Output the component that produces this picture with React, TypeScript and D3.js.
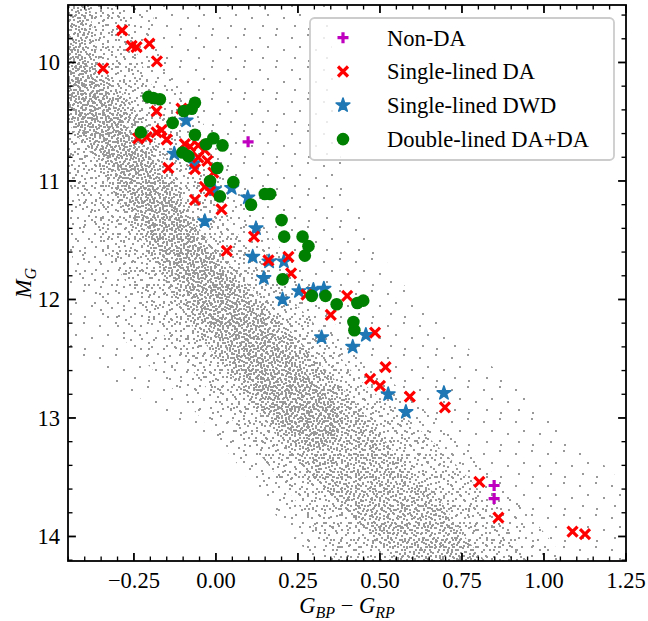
import React from "react";
import * as d3 from "d3";

// ---------- data ----------
const nonDA: [number, number][] = [
  [0.098, 10.67], [0.848, 13.57], [0.848, 13.68],
];

const singleDA: [number, number][] = [
  [-0.286, 9.73], [-0.257, 9.86], [-0.242, 9.87], [-0.203, 9.84], [-0.18, 9.99],
  [-0.344, 10.05], [-0.181, 10.41], [-0.105, 10.39], [-0.237, 10.64], [-0.211, 10.63],
  [-0.181, 10.59], [-0.166, 10.57], [-0.15, 10.65], [-0.095, 10.69], [-0.079, 10.71],
  [-0.054, 10.7], [-0.034, 10.74], [-0.054, 10.8], [-0.026, 10.83], [-0.064, 10.9],
  [-0.145, 10.89], [-0.008, 10.93], [-0.034, 11.05], [-0.018, 11.09], [-0.064, 11.16],
  [0.017, 11.24], [0.116, 11.47], [0.033, 11.59], [0.16, 11.67], [0.221, 11.64],
  [0.229, 11.78], [0.276, 11.96], [0.4, 11.97], [0.35, 12.13], [0.485, 12.28],
  [0.517, 12.57], [0.47, 12.67], [0.5, 12.73], [0.591, 12.82], [0.698, 12.91],
  [0.803, 13.54], [0.861, 13.84], [1.087, 13.96], [1.125, 13.98],
];

const singleDWD: [number, number][] = [
  [-0.091, 10.49], [-0.127, 10.77], [-0.067, 10.85], [-0.005, 11.07], [0.048, 11.06],
  [0.097, 11.14], [-0.034, 11.34], [0.122, 11.4], [0.112, 11.64], [0.162, 11.68],
  [0.207, 11.68], [0.146, 11.82], [0.253, 11.93], [0.297, 11.92], [0.329, 11.91],
  [0.203, 12.0], [0.457, 12.3], [0.322, 12.32], [0.417, 12.4], [0.525, 12.8],
  [0.579, 12.95], [0.695, 12.79],
];

const doubleDA: [number, number][] = [
  [-0.206, 10.29], [-0.191, 10.3], [-0.171, 10.31], [-0.064, 10.34], [-0.074, 10.39],
  [-0.098, 10.41], [-0.132, 10.51], [-0.229, 10.59], [-0.064, 10.61], [-0.008, 10.64],
  [-0.03, 10.69], [0.02, 10.7], [-0.102, 10.76], [-0.084, 10.79], [0.004, 10.89],
  [-0.018, 11.0], [0.053, 11.01], [0.012, 11.13], [0.149, 11.11], [0.165, 11.11],
  [0.107, 11.2], [0.2, 11.33], [0.208, 11.47], [0.264, 11.47], [0.282, 11.55],
  [0.271, 11.63], [0.203, 11.83], [0.292, 11.97], [0.334, 11.97], [0.368, 12.04],
  [0.431, 12.03], [0.449, 12.01], [0.419, 12.19], [0.422, 12.26],
];

// background white-dwarf sample, drawn as density bands: [M_G, colour left, colour right]
const cloudHalo: [number, number, number][] = [
  [9.5, -0.46, 0.348], [10.76, -0.46, 0.378], [11.6, -0.46, 0.5], [12.3, -0.46, 0.72],
  [12.8, -0.25, 0.95], [13.2, 0.0, 1.1], [13.6, 0.12, 1.24], [14.25, 0.3, 1.26],
];
const cloudOuter: [number, number, number][] = [
  [9.5, -0.46, -0.2], [10.0, -0.46, -0.15], [10.6, -0.46, -0.02], [11.2, -0.46, 0.1],
  [11.8, -0.42, 0.26], [12.4, -0.26, 0.42], [12.9, -0.08, 0.62], [13.4, 0.08, 0.82],
  [13.9, 0.22, 0.98], [14.25, 0.3, 1.08],
];
const cloudMid: [number, number, number][] = [
  [9.5, -0.46, -0.293], [9.98, -0.46, -0.232], [10.4, -0.46, -0.155], [10.82, -0.46, -0.064],
  [11.41, -0.369, 0.058], [11.84, -0.277, 0.18], [12.26, -0.171, 0.317], [12.68, -0.049, 0.439],
  [13.1, 0.073, 0.622], [13.52, 0.195, 0.774], [14.25, 0.378, 0.957],
];
const cloudCore: [number, number, number][] = [
  [9.5, -0.46, -0.384], [9.98, -0.46, -0.354], [10.4, -0.46, -0.247], [10.82, -0.369, -0.155],
  [11.41, -0.247, -0.049], [11.84, -0.155, 0.088], [12.26, -0.064, 0.226], [12.68, 0.058, 0.363],
  [13.02, 0.149, 0.47], [13.35, 0.241, 0.561], [13.69, 0.363, 0.683], [13.95, 0.454, 0.744],
  [14.25, 0.561, 0.835],
];
const cloudRidge: [number, number, number][] = [
  [9.85, -0.46, -0.43], [10.32, -0.46, -0.323], [10.82, -0.33, -0.195], [11.41, -0.21, -0.07],
  [12.0, -0.075, 0.095], [12.68, 0.1, 0.29], [13.02, 0.19, 0.38], [13.25, 0.29, 0.33],
];

const xTicks = [-0.25, 0, 0.25, 0.5, 0.75, 1.0, 1.25];
const xTickLabels = ["−0.25", "0.00", "0.25", "0.50", "0.75", "1.00", "1.25"];
const yTicks = [10, 11, 12, 13, 14];
const yTickLabels = ["10", "11", "12", "13", "14"];

const legendLabels = ["Non-DA", "Single-lined DA", "Single-lined DWD", "Double-lined DA+DA"];

// ---------- layout / style ----------
const W = 648, H = 621;
const L = 68, R = 626, T = 5, B = 561;
const FONT = "'Liberation Serif', 'Times New Roman', serif";
const FS = 22.5;
const GRAY = "#999999";
const RED = "#ff0000", BLUE = "#1f77b4", GREEN = "#008000", MAG = "#bf00bf";

const x = d3.scaleLinear().domain([-0.451, 1.25]).range([L, R]);
const y = d3.scaleLinear().domain([9.515, 14.207]).range([T, B]);

const xMinor = d3.range(-45, 126, 5).map((v) => v / 100).filter((v) => Math.abs(v * 4 - Math.round(v * 4)) > 1e-6);
const yMinor = d3.range(48, 72, 1).map((v) => v / 5).filter((v) => v >= 9.52 && v <= 14.2 && Math.abs(v - Math.round(v)) > 1e-6);

const band = (d: [number, number, number][]) =>
  d3.area<[number, number, number]>()
    .y((p) => y(p[0]))
    .x0((p) => x(p[1]))
    .x1((p) => x(p[2]))
    .curve(d3.curveMonotoneY)(d) || "";

const starPath = d3.symbol().type(d3.symbolStar).size(58)() || "";

function Cross({ cx, cy }: { cx: number; cy: number }) {
  const s = 5;
  return (
    <path d={`M${cx - s},${cy - s}L${cx + s},${cy + s}M${cx - s},${cy + s}L${cx + s},${cy - s}`}
      stroke={RED} strokeWidth={3.2} fill="none" />
  );
}
function Plus({ cx, cy }: { cx: number; cy: number }) {
  const s = 5.5;
  return (
    <path d={`M${cx - s},${cy}L${cx + s},${cy}M${cx},${cy - s}L${cx},${cy + s}`}
      stroke={MAG} strokeWidth={3.2} fill="none" />
  );
}
function Star({ cx, cy }: { cx: number; cy: number }) {
  return <path d={starPath} transform={`translate(${cx},${cy})`} fill={BLUE} stroke={BLUE} strokeWidth={1.6} strokeLinejoin="round" />;
}
function Dot({ cx, cy }: { cx: number; cy: number }) {
  return <circle cx={cx} cy={cy} r={6.3} fill={GREEN} />;
}

// texture tiles for the background cloud (hand-placed offsets)
const haloDots = [[3, 5], [19, 2], [11, 14], [27, 17], [6, 25], [20, 28]];
const outerDots = [[2, 3], [13, 1], [8, 10], [19, 8], [3, 16], [15, 17], [10, 20]];
const midDots = [[1, 2], [9, 0], [5, 7], [13, 5], [0, 12], [10, 12], [15, 15], [6, 15]];
const coreDots = [[0, 1], [5, 0], [9, 3], [3, 5], [7, 7], [10, 9], [1, 9], [5, 11], [11, 0], [8, 12], [12, 6]];
const ridgeDots = [[1, 0], [6, 2], [3, 5], [8, 6], [0, 8], [5, 9], [9, 10], [10, 1]];

function Tile({ id, size, dots }: { id: string; size: number; dots: number[][] }) {
  return (
    <pattern id={id} width={size} height={size} patternUnits="userSpaceOnUse">
      {dots.map(([a, b], i) => <rect key={i} x={a} y={b} width={2} height={2} fill={GRAY} />)}
    </pattern>
  );
}

export default function App() {
  return (
    <svg width={W} height={H} style={{ position: "absolute", left: 0, top: 0, background: "#fff" }}
      fontFamily={FONT} fontSize={FS}>
      <defs>
        <clipPath id="plot"><rect x={L} y={T} width={R - L} height={B - T} /></clipPath>
        <Tile id="halo" size={32} dots={haloDots} />
        <Tile id="outer" size={23} dots={outerDots} />
        <Tile id="mid" size={17} dots={midDots} />
        <Tile id="core" size={14} dots={coreDots} />
        <Tile id="ridge" size={12} dots={ridgeDots} />
      </defs>

      <g clipPath="url(#plot)">
        <path d={band(cloudHalo)} fill="url(#halo)" />
        <path d={band(cloudOuter)} fill="url(#outer)" />
        <path d={band(cloudMid)} fill="url(#mid)" />
        <path d={band(cloudCore)} fill="url(#core)" />
        <path d={band(cloudRidge)} fill="url(#ridge)" />

        {nonDA.map((d, i) => <Plus key={"p" + i} cx={x(d[0])} cy={y(d[1])} />)}
        {singleDWD.map((d, i) => <Star key={"s" + i} cx={x(d[0])} cy={y(d[1])} />)}
        {singleDA.map((d, i) => <Cross key={"x" + i} cx={x(d[0])} cy={y(d[1])} />)}
        {doubleDA.map((d, i) => <Dot key={"c" + i} cx={x(d[0])} cy={y(d[1])} />)}
      </g>

      {/* ticks, all four sides, pointing inward */}
      <g stroke="#000">
        {xTicks.map((t) => (
          <g key={"xt" + t}>
            <line x1={x(t)} x2={x(t)} y1={B} y2={B - 7.9} strokeWidth={1.8} />
            <line x1={x(t)} x2={x(t)} y1={T} y2={T + 7.9} strokeWidth={1.8} />
          </g>
        ))}
        {xMinor.map((t) => (
          <g key={"xm" + t}>
            <line x1={x(t)} x2={x(t)} y1={B} y2={B - 4.5} strokeWidth={1.35} />
            <line x1={x(t)} x2={x(t)} y1={T} y2={T + 4.5} strokeWidth={1.35} />
          </g>
        ))}
        {yTicks.map((t) => (
          <g key={"yt" + t}>
            <line x1={L} x2={L + 7.9} y1={y(t)} y2={y(t)} strokeWidth={1.8} />
            <line x1={R} x2={R - 7.9} y1={y(t)} y2={y(t)} strokeWidth={1.8} />
          </g>
        ))}
        {yMinor.map((t) => (
          <g key={"ym" + t}>
            <line x1={L} x2={L + 4.5} y1={y(t)} y2={y(t)} strokeWidth={1.35} />
            <line x1={R} x2={R - 4.5} y1={y(t)} y2={y(t)} strokeWidth={1.35} />
          </g>
        ))}
      </g>
      <rect x={L} y={T} width={R - L} height={B - T} fill="none" stroke="#000" strokeWidth={1.8} />

      {xTicks.map((t, i) => (
        <text key={"xl" + t} x={x(t)} y={588} textAnchor="middle">{xTickLabels[i]}</text>
      ))}
      {yTicks.map((t, i) => (
        <text key={"yl" + t} x={L - 8} y={y(t) + 7.8} textAnchor="end">{yTickLabels[i]}</text>
      ))}

      <text x={(L + R) / 2} y={613} textAnchor="middle" fontStyle="italic">
        G<tspan dy={5} fontSize={16}>BP</tspan>
        <tspan dy={-5} fontStyle="normal"> − </tspan>G<tspan dy={5} fontSize={16}>RP</tspan>
      </text>
      <text transform={`translate(31,${(T + B) / 2}) rotate(-90)`} textAnchor="middle" fontStyle="italic">
        M<tspan dy={5} fontSize={16}>G</tspan>
      </text>

      {/* legend */}
      <g>
        <rect x={310} y={18} width={304} height={142} rx={4.5} fill="#fff" fillOpacity={0.8}
          stroke="#cccccc" strokeWidth={1.8} />
        {legendLabels.map((lab, i) => {
          const cy = 37.7 + i * 33.8;
          const cx = 343;
          return (
            <g key={lab}>
              {i === 0 && <Plus cx={cx} cy={cy} />}
              {i === 1 && <Cross cx={cx} cy={cy} />}
              {i === 2 && <Star cx={cx} cy={cy} />}
              {i === 3 && <Dot cx={cx} cy={cy} />}
              <text x={387} y={cy + 7.8}>{lab}</text>
            </g>
          );
        })}
      </g>
    </svg>
  );
}
